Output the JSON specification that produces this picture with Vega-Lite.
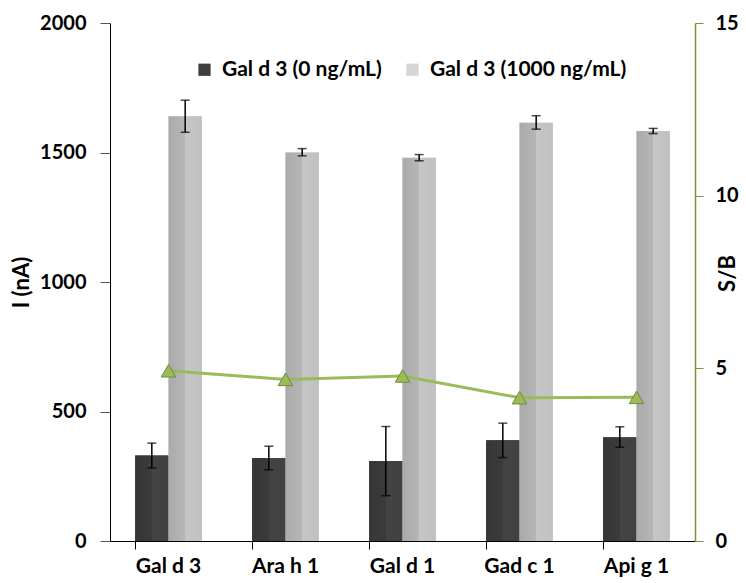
{
  "$schema": "https://vega.github.io/schema/vega-lite/v6.json",
  "width": 585,
  "height": 518,
  "autosize": "none",
  "padding": {"left": 110, "top": 23, "right": 51, "bottom": 42},
  "background": "white",
  "config": {
    "font": "Lato",
    "view": {"stroke": null},
    "axis": {"grid": false, "labelFontWeight": "bold", "titleFontWeight": "bold", "labelColor": "black", "titleColor": "black"}
  },
  "datasets": {
    "bars": [
      {"allergen": "Gal d 3", "series": "Gal d 3 (0 ng/mL)", "mean": 330, "lo": 282, "hi": 378},
      {"allergen": "Gal d 3", "series": "Gal d 3 (1000 ng/mL)", "mean": 1640, "lo": 1578, "hi": 1702},
      {"allergen": "Ara h 1", "series": "Gal d 3 (0 ng/mL)", "mean": 320, "lo": 275, "hi": 366},
      {"allergen": "Ara h 1", "series": "Gal d 3 (1000 ng/mL)", "mean": 1500, "lo": 1487, "hi": 1515},
      {"allergen": "Gal d 1", "series": "Gal d 3 (0 ng/mL)", "mean": 309, "lo": 175, "hi": 442},
      {"allergen": "Gal d 1", "series": "Gal d 3 (1000 ng/mL)", "mean": 1480, "lo": 1468, "hi": 1492},
      {"allergen": "Gad c 1", "series": "Gal d 3 (0 ng/mL)", "mean": 389, "lo": 322, "hi": 455},
      {"allergen": "Gad c 1", "series": "Gal d 3 (1000 ng/mL)", "mean": 1615, "lo": 1590, "hi": 1642},
      {"allergen": "Api g 1", "series": "Gal d 3 (0 ng/mL)", "mean": 401, "lo": 362, "hi": 441},
      {"allergen": "Api g 1", "series": "Gal d 3 (1000 ng/mL)", "mean": 1583, "lo": 1573, "hi": 1593}
    ],
    "sb": [
      {"allergen": "Gal d 3", "sb": 4.93},
      {"allergen": "Ara h 1", "sb": 4.68},
      {"allergen": "Gal d 1", "sb": 4.78},
      {"allergen": "Gad c 1", "sb": 4.15},
      {"allergen": "Api g 1", "sb": 4.16}
    ]
  },
  "layer": [
    {
      "data": {"name": "bars"},
      "encoding": {
        "x": {
          "field": "allergen", "type": "nominal", "sort": null,
          "scale": {"paddingInner": 0.43, "paddingOuter": 0.215},
          "axis": {
            "title": null, "labelAngle": 0, "labelFontSize": 21, "bandPosition": 0,
            "domainColor": "black", "domainWidth": 1, "tickColor": "black", "tickSize": 8, "labelPadding": 6
          }
        },
        "xOffset": {"field": "series", "type": "nominal", "sort": null, "scale": {"paddingInner": 0, "paddingOuter": 0}},
        "y": {
          "field": "mean", "type": "quantitative", "title": "I (nA)",
          "scale": {"domain": [0, 2000], "nice": false},
          "axis": {
            "values": [0, 500, 1000, 1500, 2000], "format": "d", "labelFontSize": 20, "titleFontSize": 22,
            "domainColor": "black", "tickColor": "#555555", "tickSize": 10, "labelPadding": 14, "titlePadding": 6
          }
        }
      },
      "layer": [
        {
          "mark": {"type": "bar"},
          "encoding": {
            "color": {
              "field": "series", "type": "nominal", "sort": null,
              "scale": {"domain": ["Gal d 3 (0 ng/mL)", "Gal d 3 (1000 ng/mL)"], "range": ["#3f3f3f", "#d6d6d6"]},
              "legend": {
                "title": null, "orient": "none", "legendX": 84, "legendY": 36, "direction": "horizontal",
                "symbolType": "square", "symbolSize": 150, "symbolStrokeWidth": 0, "labelFontSize": 21,
                "labelFontWeight": "bold", "labelColor": "black", "columnPadding": 20, "labelOffset": 7, "labelLimit": 0
              }
            }
          }
        },
        {
          "transform": [{"filter": "datum.series === 'Gal d 3 (0 ng/mL)'"}],
          "mark": {
            "type": "bar",
            "fill": {"gradient": "linear", "x1": 0, "x2": 1, "y1": 0, "y2": 0,
              "stops": [{"offset": 0, "color": "#363636"}, {"offset": 0.5, "color": "#3b3b3b"}, {"offset": 0.5, "color": "#444444"}, {"offset": 1, "color": "#404040"}]}
          }
        },
        {
          "transform": [{"filter": "datum.series === 'Gal d 3 (1000 ng/mL)'"}],
          "mark": {
            "type": "bar",
            "fill": {"gradient": "linear", "x1": 0, "x2": 1, "y1": 0, "y2": 0,
              "stops": [{"offset": 0, "color": "#aaaaaa"}, {"offset": 0.5, "color": "#b6b6b6"}, {"offset": 0.5, "color": "#c6c6c6"}, {"offset": 1, "color": "#c0c0c0"}]}
          }
        },
        {
          "mark": {"type": "rule", "color": "black", "strokeWidth": 1.5},
          "encoding": {"y": {"field": "lo", "type": "quantitative", "title": "I (nA)"}, "y2": {"field": "hi"}}
        },
        {
          "mark": {"type": "tick", "color": "black", "thickness": 1.5, "size": 9, "orient": "horizontal"},
          "encoding": {"y": {"field": "lo", "type": "quantitative", "title": "I (nA)"}}
        },
        {
          "mark": {"type": "tick", "color": "black", "thickness": 1.5, "size": 9, "orient": "horizontal"},
          "encoding": {"y": {"field": "hi", "type": "quantitative", "title": "I (nA)"}}
        }
      ]
    },
    {
      "data": {"name": "sb"},
      "encoding": {
        "x": {"field": "allergen", "type": "nominal", "sort": null},
        "y": {
          "field": "sb", "type": "quantitative", "title": "S/B",
          "scale": {"domain": [0, 15], "nice": false},
          "axis": {
            "orient": "right", "values": [0, 5, 10, 15], "labelFontSize": 20, "titleFontSize": 22,
            "domainColor": "#77933C", "domainWidth": 1.5, "tickColor": "#77933C", "tickSize": 8, "labelPadding": 12,
            "titleAngle": 270, "titleX": 32, "titleY": 250, "titleAlign": "center", "titleBaseline": "middle"
          }
        }
      },
      "layer": [
        {"mark": {"type": "line", "color": "#9BBB59", "strokeWidth": 3}},
        {"mark": {"type": "point", "shape": "triangle-up", "size": 210, "filled": true, "fill": "#9BBB59", "stroke": "#6E8B3D", "strokeWidth": 1, "opacity": 1}}
      ]
    }
  ],
  "resolve": {"scale": {"y": "independent"}}
}
